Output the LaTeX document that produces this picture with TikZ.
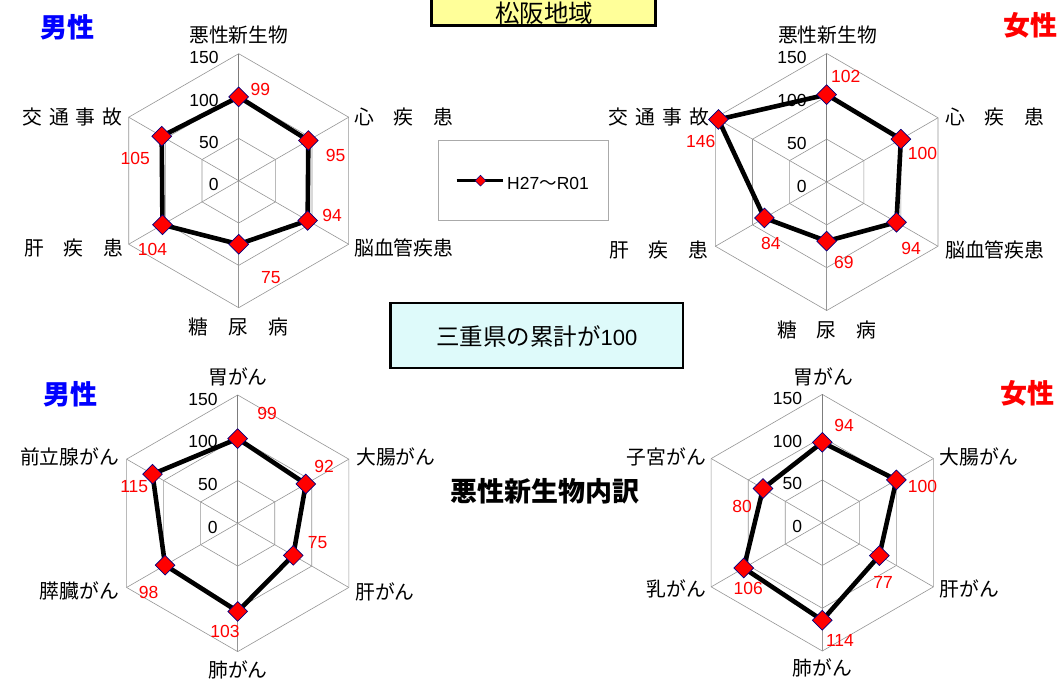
\documentclass[tikz,border=0pt]{standalone}
\usepackage{fontspec}
\setmainfont{Noto Sans CJK JP}
\newfontfamily\lat{Liberation Sans}
\usetikzlibrary{shapes.geometric}
\definecolor{gridgray}{RGB}{150,150,150}
\definecolor{axisgray}{RGB}{125,125,125}
\definecolor{legendgray}{RGB}{170,170,170}
\definecolor{mkborder}{RGB}{0,0,128}
\definecolor{boxyellow}{RGB}{255,255,153}
\definecolor{boxcyan}{RGB}{222,250,250}
\definecolor{titleblue}{RGB}{0,0,255}
\definecolor{valred}{RGB}{255,0,0}
\tikzset{
  gridline/.style={draw=gridgray, line width=0.6pt},
  axisline/.style={draw=axisgray, line width=1pt},
  series/.style={draw=black, line width=4.6pt, line join=round},
  mk/.style={diamond, aspect=1, fill=valred, draw=mkborder, line width=0.7pt, minimum size=20pt, inner sep=0pt},
  cat/.style={font=\fontsize{19.8}{21}\selectfont, inner sep=0pt},
  num/.style={font=\lat\fontsize{17.5}{19}\selectfont, inner sep=0pt},
  val/.style={num, text=valred},
  ttl/.style={font=\bfseries\fontsize{27}{29}\selectfont, inner sep=0pt},
}
\newcommand\radargrid[4]{%
  \begin{scope}[shift={(#2,#3)}]
    \foreach \f in {1,2,3}{
      \draw[gridline] (0,{-#4*\f/3})
        \foreach \k in {1,...,5}{ -- ({#4*\f/3*sin(60*\k)},{-#4*\f/3*cos(60*\k)}) } -- cycle;
    }
    \foreach \k in {1,...,5}
      \draw[gridline] (0,0) -- ({#4*sin(60*\k)},{-#4*cos(60*\k)});
    \draw[axisline] (0,0) -- (0,{-#4});
    \foreach \v/\t in {0/0,1/50,2/100,3/150}
      \node[num, anchor=east] (#1-t\v) at (-20,{-#4*\v/3+4}) {\t};
  \end{scope}}
\newcommand\radardata[5]{%
  \begin{scope}[shift={(#2,#3)}]
    \foreach \v [count=\k from 0] in {#5}
      \coordinate (#1-p\k) at ({\v/150*#4*sin(60*\k)},{-\v/150*#4*cos(60*\k)});
    \draw[series] (#1-p0) -- (#1-p1) -- (#1-p2) -- (#1-p3) -- (#1-p4) -- (#1-p5) -- cycle;
    \foreach \k in {0,...,5} \node[mk] (#1-m\k) at (#1-p\k) {};
  \end{scope}}
\begin{document}
\begin{tikzpicture}[x=1pt,y=-1pt]
\useasboundingbox (0,0) rectangle (1062,678);
\fill[white] (0,0) rectangle (1062,678);

% ---------- grids ----------
\radargrid{tl}{238.7}{180.7}{127}
\radargrid{tr}{826.7}{182}{128.5}
\radargrid{bl}{237.7}{523.3}{128.3}
\radargrid{br}{822.3}{522.7}{128.3}

% ---------- data ----------
\radardata{tl}{238.7}{180.7}{127}{99,95,94,75,104,105}
\radardata{tr}{826.7}{182}{128.5}{102,100,94,69,84,146}
\radardata{bl}{237.7}{523.3}{128.3}{99,92,75,103,98,115}
\radardata{br}{822.3}{522.7}{128.3}{94,100,77,114,106,80}

% ---------- category labels ----------
\node[cat] (tl-c0) at (238.8,35) {悪性新生物};
\node[cat, anchor=west] (tl-c1) at (354,116.7) {心　疾　患};
\node[cat, anchor=west] (tl-c2) at (354,248.3) {脳血管疾患};
\node[cat] (tl-c3) at (238.3,326.7) {糖　尿　病};
\node[cat, anchor=east] (tl-c4) at (123.3,248.3) {肝　疾　患};
\node[cat, anchor=east] (tl-c5) at (122.7,116.7) {交\hspace{0.35em}通\hspace{0.35em}事\hspace{0.35em}故};

\node[cat] (tr-c0) at (827.5,35) {悪性新生物};
\node[cat, anchor=west] (tr-c1) at (945,116.7) {心　疾　患};
\node[cat, anchor=west] (tr-c2) at (945,250) {脳血管疾患};
\node[cat] (tr-c3) at (826.7,330) {糖　尿　病};
\node[cat, anchor=east] (tr-c4) at (708.3,250) {肝　疾　患};
\node[cat, anchor=east] (tr-c5) at (709,116.7) {交\hspace{0.35em}通\hspace{0.35em}事\hspace{0.35em}故};

\node[cat] (bl-c0) at (238,376.7) {胃がん};
\node[cat, anchor=west] (bl-c1) at (356,457.3) {大腸がん};
\node[cat, anchor=west] (bl-c2) at (355,591.7) {肝がん};
\node[cat] (bl-c3) at (238,670) {肺がん};
\node[cat, anchor=east] (bl-c4) at (119.3,590.7) {膵臓がん};
\node[cat, anchor=east] (bl-c5) at (119.3,457.3) {前立腺がん};

\node[cat] (br-c0) at (823.3,376.7) {胃がん};
\node[cat, anchor=west] (br-c1) at (939.3,457.3) {大腸がん};
\node[cat, anchor=west] (br-c2) at (939.3,589.3) {肝がん};
\node[cat] (br-c3) at (822.5,668.3) {肺がん};
\node[cat, anchor=east] (br-c4) at (706,589) {乳がん};
\node[cat, anchor=east] (br-c5) at (706,456.7) {子宮がん};

% ---------- value labels ----------
\node[val] (tl-v0) at (260.3,89.3) {99};
\node[val] (tl-v1) at (335.5,155.7) {95};
\node[val] (tl-v2) at (332,215) {94};
\node[val] (tl-v3) at (270.8,277.3) {75};
\node[val] (tl-v4) at (152.5,249.3) {104};
\node[val] (tl-v5) at (135.3,158.3) {105};

\node[val] (tr-v0) at (845.8,76.7) {102};
\node[val] (tr-v1) at (922.5,153.3) {100};
\node[val] (tr-v2) at (911.2,248.3) {94};
\node[val] (tr-v3) at (843.8,262.3) {69};
\node[val] (tr-v4) at (770.8,243.3) {84};
\node[val] (tr-v5) at (700.7,141.7) {146};

\node[val] (bl-v0) at (267,413.3) {99};
\node[val] (bl-v1) at (324.2,466.7) {92};
\node[val] (bl-v2) at (317.5,542.3) {75};
\node[val] (bl-v3) at (225,631.7) {103};
\node[val] (bl-v4) at (148.7,592.3) {98};
\node[val] (bl-v5) at (134.2,486.7) {115};

\node[val] (br-v0) at (844.2,425.7) {94};
\node[val] (br-v1) at (922.5,486.7) {100};
\node[val] (br-v2) at (883.2,582.3) {77};
\node[val] (br-v3) at (840,640) {114};
\node[val] (br-v4) at (748.2,588.3) {106};
\node[val] (br-v5) at (742,506.7) {80};

% ---------- titles ----------
\node[ttl, text=titleblue] (tl-title) at (67,27) {男性};
\node[ttl, text=valred] (tr-title) at (1030,25) {女性};
\node[ttl, text=titleblue] (bl-title) at (70,394) {男性};
\node[ttl, text=valred] (br-title) at (1027,393) {女性};

% ---------- area box ----------
\node[draw=black, line width=3pt, fill=boxyellow, minimum width=223.7pt, minimum height=36pt, inner sep=0pt] (areabox) at (543.3,7.2) {};
\node[font=\fontsize{24.5}{26}\selectfont, inner sep=0pt] (areatext) at (544,13) {松阪地域};

% ---------- legend ----------
\node[draw=legendgray, line width=0.8pt, minimum width=170pt, minimum height=80pt, inner sep=0pt] (legend) at (523.5,180) {};
\coordinate (lga) at (456.7,180.7);
\coordinate (lgb) at (503.3,180.7);
\draw[series, line width=3.5pt] (lga) -- (lgb);
\node[mk, minimum size=11pt, line width=0.5pt] (lgm) at (480.5,180.7) {};
\node[num, anchor=west] (lgt) at (507,183.5) {H27{\rmfamily ～}R01};

% ---------- prefecture box ----------
\node[draw=black, line width=2.7pt, fill=boxcyan, minimum width=292.6pt, minimum height=65pt, inner sep=0pt] (prefbox) at (536.7,335.6) {};
\node[font=\fontsize{23.5}{25}\selectfont, inner sep=0pt] (preftext) at (536.7,336.7) {三重県の累計が{\lat\fontsize{22}{24}\selectfont 100}};

% ---------- subtitle ----------
\node[ttl] (subttl) at (545,491.7) {悪性新生物内訳};
\end{tikzpicture}
\end{document}
